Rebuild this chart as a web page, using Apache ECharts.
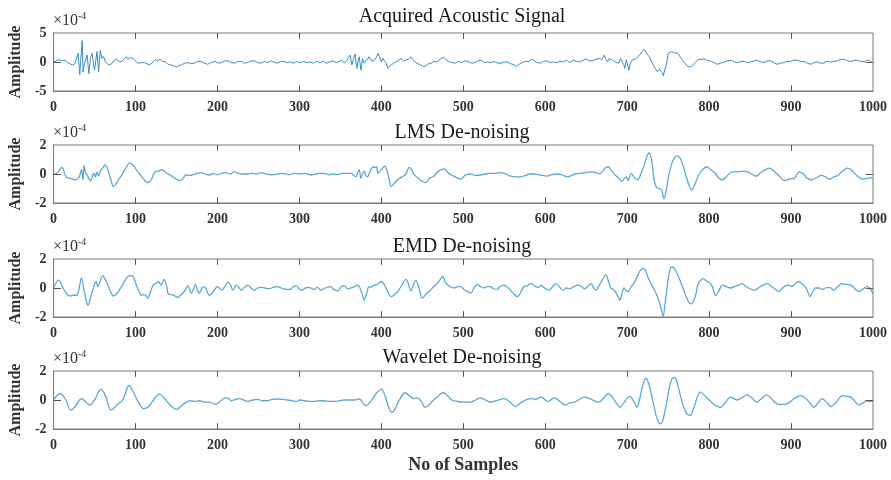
<!DOCTYPE html>
<html>
<head>
<meta charset="utf-8">
<script src="https://cdn.jsdelivr.net/npm/echarts@6/dist/echarts.min.js"></script>
<style>html,body{margin:0;padding:0;background:#fff}#c{width:891px;height:480px}</style>
</head>
<body>
<div id="c"></div>
<script>
// ---- data (amplitude in units of 1e-4) ----
const titles = ['Acquired Acoustic Signal', 'LMS De-noising', 'EMD De-noising', 'Wavelet De-noising'];
const xTicks = [0, 100, 200, 300, 400, 500, 600, 700, 800, 900, 1000];
const yLimits = [5, 2, 2, 2];

const acqX = [0,3,6,8,11,14,17,20,23,26,28,30,32,33,35,36,38,41,43,45,47,50,53,55,57,59,61,63,65,67,69,71,74,77,80,83,86,89,91,93,95,97,99,101,103,105,108,111,114,117,120,124,127,130,133,136,139,142,146,150,153,156,160,164,168,172,176,180,184,188,192,197,201,205,209,213,217,221,225,229,233,237,241,245,249,253,257,261,265,269,273,277,281,285,289,293,297,301,305,309,313,317,321,325,329,333,337,341,345,349,352,355,358,360,362,364,365,367,368,370,372,373,375,377,379,381,383,385,388,391,394,396,398,400,402,404,406,408,410,412,415,418,421,424,427,430,433,436,439,442,444,448,452,455,458,461,464,468,472,476,479,482,486,490,494,498,502,506,510,514,518,522,526,530,534,538,542,546,550,554,558,562,565,568,572,576,580,584,587,590,594,598,602,606,610,614,618,622,626,630,634,638,642,646,650,654,658,662,666,669,672,674,676,678,680,682,684,687,690,692,694,696,697,699,700,702,704,706,708,711,713,715,718,721,723,725,727,729,731,733,735,737,739,741,743,744,746,748,750,752,754,756,758,760,762,764,766,768,770,772,774,776,778,780,782,785,788,791,794,797,800,803,806,810,814,818,822,827,831,835,839,843,847,851,855,859,863,867,871,875,879,883,887,891,895,899,903,908,912,916,920,924,928,932,936,940,944,948,952,956,960,965,969,973,977,981,985,989,992,995,998,1000];
const acqY = [0,0.2,0.4,0.5,0.2,0.3,-0.1,-0.3,-0.5,-0.3,-0.6,1.5,-2.2,0.1,3.7,-1.7,-0.2,1.2,-2.0,0.6,1.5,-1.4,1.8,-1.7,2.0,0.6,1.0,0.1,-0.2,-0.5,-0.2,-0.3,0.3,0.5,0.1,0.1,0.5,0.9,0.5,0.6,0.8,0.8,0.3,0.1,-0.2,-0.4,-0.1,-0.1,-0.3,-0.5,-0.2,0.4,0.2,0.5,0.1,0.1,-0.3,-0.5,-0.6,-0.9,-0.6,-0.5,-0.2,-0.1,-0.3,-0.2,0.1,0.1,-0.2,-0.4,-0.1,0.1,-0.2,-0.1,0.2,0.2,-0.1,-0.2,0.1,0.1,-0.2,-0.1,0.2,0.2,-0.1,-0.2,0.1,-0.1,0.2,0.0,-0.2,0.1,0.1,-0.1,0.0,-0.2,0.1,-0.1,0.1,-0.1,0.0,-0.2,0.1,-0.1,0.1,-0.2,0.0,0.2,-0.1,0.1,0.3,-0.2,0.3,0.8,1.2,-0.5,-0.8,1.0,1.4,-1.1,0.5,0.9,-1.4,0.6,-0.2,0.0,0.5,0.9,0.2,0.3,0.8,1.5,0.9,0.0,0.6,0.6,-0.3,-1.1,-0.8,-0.5,-0.2,0.0,0.3,0.6,0.2,0.3,0.5,0.9,0.3,-0.1,-0.2,-0.5,-0.8,-0.6,-0.3,-0.2,0.1,0.0,0.5,0.8,0.4,0.1,-0.1,-0.2,0.1,-0.1,0.2,0.1,-0.2,-0.1,0.2,0.3,-0.1,0.0,-0.1,0.1,-0.2,-0.2,0.0,0.0,-0.3,-0.5,-0.8,-0.4,-0.1,0.1,0.1,0.5,0.2,-0.1,-0.2,0.1,0.2,-0.1,0.0,-0.1,0.1,0.0,0.3,-0.1,0.3,0.1,0.0,0.3,0.5,0.2,0.2,0.5,0.6,0.4,1.2,0.5,0.0,0.6,0.5,0.3,0.4,-0.1,-0.2,0.6,0.9,-0.5,-1.1,0.4,0.6,-1.4,-0.2,0.3,0.6,0.6,0.9,1.2,1.8,2.2,1.6,1.5,0.9,0.6,-0.3,-0.8,-1.3,-1.7,-1.2,-1.1,-1.9,-2.4,-1.3,-0.3,1.5,1.4,1.8,1.6,1.6,1.5,1.5,1.0,0.6,0.2,0.0,-0.5,-0.8,-0.9,-1.1,-0.6,-0.2,0.2,0.5,0.4,0.6,0.3,0.2,0.1,-0.1,-0.4,-0.2,0.0,0.2,0.3,0.0,-0.1,0.1,0.1,-0.1,0.0,0.2,0.3,0.0,-0.1,0.2,0.2,-0.1,-0.4,-0.2,-0.1,0.1,0.1,0.3,0.3,0.1,0.1,-0.2,-0.4,-0.1,0.0,-0.2,-0.2,0.1,0.0,0.1,0.2,0.4,0.5,0.2,0.1,0.3,0.3,0.1,0.0,0.3,0.3,0.0,-0.1];

const lmsX = [0,4,10,16,21,26,31,34,36,37,39,41,43,45,47,49,51,53,55,57,60,63,65,67,70,73,76,79,83,87,93,97,101,105,110,115,119,124,128,132,135,138,143,148,154,158,162,167,172,176,180,185,190,195,200,205,210,215,221,226,231,237,242,248,254,260,266,274,280,287,294,300,307,314,320,325,330,336,341,347,352,358,363,366,369,371,373,375,377,379,381,383,385,387,390,392,394,396,400,404,407,410,412,415,420,425,430,434,437,440,445,450,454,459,464,470,477,481,485,490,497,502,509,515,521,527,533,540,546,552,558,564,570,576,581,586,591,596,602,608,614,620,627,632,637,643,650,656,662,666,670,674,677,680,685,690,693,696,699,701,703,705,707,709,711,713,716,720,724,727,730,733,736,739,742,745,748,751,755,758,761,764,767,771,775,779,782,787,792,797,802,808,812,816,821,826,831,836,842,847,852,857,863,869,874,879,885,892,898,904,910,915,920,925,931,937,942,947,952,957,963,969,975,981,987,993,997,1000];
const lmsY = [0,0.05,0.45,-0.25,-0.3,-0.4,-0.25,0.3,-0.4,0.6,0.1,-0.1,-0.3,-0.5,-0.2,0.05,-0.2,0.15,-0.15,0.2,0.4,0.65,0.5,0.15,-0.4,-0.85,-0.7,-0.4,-0.1,0.3,0.75,0.6,0.3,0.0,-0.35,-0.6,-0.4,0.15,0.2,0.3,0.2,0.05,-0.1,-0.3,-0.45,-0.3,-0.05,-0.1,0.0,0.05,0.1,0.0,-0.07,0.05,-0.05,0.05,0.1,0.0,0.15,0.05,0.0,0.0,0.05,0.0,0.1,0.0,-0.05,0.0,0.05,-0.05,0.05,0.0,0.05,-0.07,0.0,0.05,0.05,-0.05,0.0,-0.03,0.05,0.05,0.05,-0.1,-0.2,0.1,0.3,-0.3,0.0,0.2,-0.1,-0.2,0.0,0.3,0.5,0.45,0.5,0.05,0.3,0.55,0.2,-0.5,-0.85,-0.7,-0.4,-0.2,0.0,0.45,0.3,-0.05,-0.3,-0.5,-0.6,-0.3,-0.15,0.2,0.35,0.1,-0.05,-0.2,-0.35,-0.1,0.0,-0.1,-0.07,0.0,0.05,0.05,0.1,0.0,-0.15,-0.2,-0.2,-0.1,0.0,0.0,-0.05,-0.1,-0.15,-0.05,0.0,-0.05,-0.2,-0.1,0.0,0.05,0.1,0.15,0.1,0.0,0.2,0.45,0.5,0.3,-0.05,-0.3,-0.5,-0.35,-0.2,-0.45,-0.2,0.05,-0.1,-0.25,-0.35,-0.4,-0.1,0.5,1.2,1.45,0.9,-0.4,-0.95,-1.0,-1.1,-1.7,-1.0,0.0,0.8,1.15,1.25,1.15,0.8,0.05,-0.7,-1.1,-0.8,-0.1,0.3,0.5,0.3,0.0,-0.3,-0.4,-0.2,0.1,0.15,0.15,0.2,0.15,0.0,-0.15,0.1,0.3,0.4,0.2,-0.1,-0.45,-0.35,-0.3,0.15,0.0,-0.3,-0.4,-0.25,-0.1,-0.2,-0.35,-0.2,-0.1,0.2,0.4,0.2,-0.15,-0.35,-0.3,-0.25,-0.35];

const emdX = [0,6,12,16,20,25,28,31,34,37,40,42,45,48,52,54,57,60,63,67,70,73,76,79,84,88,93,97,101,104,107,111,113,115,118,122,125,128,131,135,138,140,144,148,152,155,158,161,164,168,171,173,176,178,181,184,187,190,194,198,200,205,209,213,216,219,223,226,229,233,237,241,245,249,253,258,263,268,273,278,284,290,293,296,299,302,306,310,314,318,322,326,330,334,338,342,347,351,355,359,363,367,371,374,377,379,382,385,388,391,395,400,404,408,412,416,420,425,430,433,436,439,442,446,450,455,460,464,468,472,475,478,481,485,489,493,497,501,505,509,513,517,521,525,529,533,537,541,545,550,555,560,566,570,574,578,582,585,588,592,595,598,602,605,609,613,617,622,626,630,635,640,644,648,652,656,659,662,666,670,674,677,680,683,686,689,691,694,696,699,701,705,709,713,716,719,722,725,729,733,737,740,742,744,746,748,750,752,754,757,760,764,768,772,775,778,781,784,786,789,793,796,800,804,808,812,816,821,826,831,836,840,845,850,855,860,866,871,876,881,885,889,893,897,901,905,909,913,917,920,923,926,930,934,938,942,947,952,957,962,967,973,978,983,988,993,996,1000];
const emdY = [0,0.55,-0.05,-0.4,-0.55,-0.5,-0.5,-0.1,0.7,-0.1,-0.9,-1.2,-0.7,-0.1,0.45,0.1,0.5,0.85,0.6,0.1,-0.3,-0.55,-0.45,-0.25,0.2,0.6,0.85,0.8,0.2,-0.2,-0.5,-0.45,-0.55,-0.7,-0.3,0.25,0.3,0.45,0.2,0.6,0.1,-0.4,-0.45,-0.55,-0.65,-0.5,-0.35,-0.1,0.15,-0.35,-0.05,0.25,-0.2,-0.35,0.0,0.1,-0.2,-0.5,-0.3,0.0,0.1,-0.15,0.1,0.4,0.2,-0.15,0.2,0.05,-0.15,0.05,0.2,0.0,-0.15,0.0,0.05,0.0,-0.05,0.05,0.1,0.0,-0.1,-0.07,0.1,0.15,0.0,-0.15,-0.05,0.05,0.0,-0.1,0.05,-0.15,-0.05,0.05,0.1,-0.1,-0.2,0.1,0.15,-0.05,0.0,0.1,0.2,0.0,-0.5,-0.85,-0.4,0.1,0.05,0.2,0.25,0.45,0.2,-0.3,-0.6,-0.45,-0.25,0.2,0.6,0.3,-0.2,0.2,0.55,0.0,-0.7,-0.4,-0.15,0.1,0.3,0.6,0.8,0.4,0.2,0.05,0.0,0.1,0.1,-0.1,-0.25,-0.35,0.0,0.25,0.1,0.0,0.1,0.1,-0.05,-0.1,0.1,0.2,0.0,-0.3,-0.6,-0.3,0.1,0.15,0.3,0.25,0.1,0.05,0.2,0.05,-0.1,-0.15,0.1,0.3,0.1,-0.15,0.0,-0.05,0.1,0.2,0.1,-0.05,0.1,0.3,0.0,-0.15,0.2,0.6,0.9,0.5,0.0,-0.1,-0.3,-0.6,-0.85,-0.3,0.0,-0.2,-0.25,0.1,0.4,0.9,1.2,1.35,1.25,0.8,0.3,-0.1,-0.6,-1.1,-1.5,-1.95,-1.2,-0.3,0.6,1.2,1.45,1.4,1.1,0.6,0.0,-0.6,-0.95,-1.1,-0.9,-0.4,0.2,0.5,0.65,0.5,0.4,0.1,-0.5,-0.2,0.2,0.1,0.0,0.1,0.2,0.3,0.1,-0.05,-0.15,0.0,0.2,0.3,0.1,-0.1,-0.25,-0.05,0.15,0.2,0.1,0.3,0.45,0.3,0.1,-0.2,-0.6,-0.3,0.0,0.0,-0.1,0.0,0.05,-0.15,0.1,0.3,0.25,0.2,-0.05,-0.25,-0.05,0.1,0.0,-0.4];

const wavX = [0,8,15,21,27,34,39,44,50,58,64,70,74,77,80,83,87,92,97,103,110,116,122,129,134,140,145,150,155,162,167,172,178,184,190,197,203,210,214,217,222,227,232,237,243,249,255,261,267,273,280,286,291,296,301,306,312,318,324,330,336,343,349,355,361,367,373,381,387,393,400,405,409,413,417,421,429,435,440,444,449,453,458,462,468,475,480,486,493,500,509,515,521,527,533,540,550,557,564,570,576,582,588,595,603,611,618,624,630,636,642,648,656,665,671,677,683,688,691,696,700,703,708,712,715,719,723,727,731,735,738,741,744,748,752,755,758,761,765,769,773,777,781,785,789,794,800,807,814,820,826,830,834,840,846,852,858,864,870,876,880,885,891,897,904,912,918,923,928,933,938,943,949,955,963,968,973,978,983,988,993,996,1000];
const wavY = [0,0.45,0.0,-0.7,-0.4,0.1,-0.1,-0.35,0.0,0.75,0.2,-0.7,-0.55,-0.35,-0.2,-0.1,0.35,1.0,0.6,-0.1,-0.6,-0.45,0.0,0.4,0.2,-0.2,-0.5,-0.65,-0.45,-0.15,-0.05,-0.1,-0.05,-0.15,-0.15,-0.3,-0.1,0.15,0.1,-0.05,0.05,0.1,0.0,-0.1,0.0,0.05,-0.05,-0.05,0.05,0.07,0.05,0.0,-0.05,-0.1,0.0,-0.05,-0.1,-0.1,-0.05,-0.05,-0.1,-0.1,-0.05,0.0,0.0,0.0,0.07,-0.4,-0.1,0.4,0.75,0.2,-0.5,-0.85,-0.6,-0.1,0.5,0.25,0.1,0.15,-0.1,-0.5,-0.35,-0.1,0.2,0.5,0.35,0.0,-0.1,-0.15,-0.15,0.0,0.15,0.0,-0.15,-0.05,0.1,-0.15,-0.45,-0.2,0.0,0.1,0.05,0.2,-0.1,0.15,-0.1,-0.35,-0.2,-0.15,0.05,0.2,0.05,-0.15,0.1,0.45,0.1,-0.3,-0.5,-0.2,0.15,0.25,-0.1,-0.5,0.0,1.0,1.5,1.0,0.0,-1.0,-1.5,-1.65,-1.3,-0.2,1.0,1.5,1.55,1.2,0.3,-0.5,-0.95,-1.05,-0.6,0.1,0.55,0.35,0.0,-0.35,-0.5,-0.15,0.2,0.1,0.0,0.15,0.35,0.15,-0.15,0.1,0.35,0.1,-0.15,-0.3,-0.3,-0.2,0.1,0.3,0.1,-0.2,-0.5,-0.2,0.1,-0.15,-0.45,-0.15,0.3,0.25,0.2,-0.1,-0.35,-0.2,-0.05,-0.1,-0.1];

const seriesX = [acqX, lmsX, emdX, wavX];
const seriesY = [acqY, lmsY, emdY, wavY];

// ---- chart ----
const chart = echarts.init(document.getElementById('c'), null, {renderer: 'canvas'});
const FONT = "'Liberation Serif', 'Times New Roman', serif";
const tops = [33, 145, 259, 371];
const titleY = [17, 133, 247, 358];
const plotH = 58;
const lineColors = ['#3b8dc5', '#5ea8d4', '#5ea8d4', '#5ea8d4'];
const TICK_FRAC = 0.1;   // tick length as a fraction of each axis span (MATLAB style inner ticks)

const grids = [], xAxes = [], yAxes = [], series = [], graphics = [];
for (let i = 0; i < 4; i++) {
  const L = yLimits[i];
  grids.push({left: 52, right: 18, top: tops[i], height: plotH, show: true,
    borderColor: '#7a7a7a', borderWidth: 1, backgroundColor: 'rgba(0,0,0,0)'});
  xAxes.push({gridIndex: i, type: 'value', min: 0, max: 1000, interval: 100, position: 'bottom',
    axisLine: {show: true, onZero: false, lineStyle: {color: '#7a7a7a', width: 1}},
    splitLine: {show: false}, axisTick: {show: false},
    axisLabel: {fontFamily: FONT, fontWeight: 'bold', fontSize: 14, color: '#333', margin: 9,
      formatter: v => xTicks.indexOf(v) >= 0 ? String(v) : ''},
    name: i === 3 ? 'No of Samples' : '', nameLocation: 'middle', nameGap: 27,
    nameTextStyle: {fontFamily: FONT, fontWeight: 'bold', fontSize: 18, color: '#333'}});
  yAxes.push({gridIndex: i, type: 'value', min: -L, max: L, interval: L, position: 'left',
    axisLine: {show: true, onZero: false, lineStyle: {color: '#7a7a7a', width: 1}},
    splitLine: {show: false}, axisTick: {show: false},
    axisLabel: {fontFamily: FONT, fontWeight: 'bold', fontSize: 14, color: '#333', margin: 7},
    name: 'Amplitude', nameLocation: 'middle', nameGap: 17, nameRotate: 90,
    nameTextStyle: {fontFamily: FONT, fontWeight: 'bold', fontSize: 16, color: '#333'}});

  // inner tick marks (bottom, top, left, right) placed through the axis scales
  const tk = [];
  const dy = 2 * L * TICK_FRAC, dx = 1000 * 0.009;
  xTicks.slice(1, -1).forEach(v => {
    tk.push([{coord: [v, -L]}, {coord: [v, -L + dy]}]);
    tk.push([{coord: [v, L]}, {coord: [v, L - dy]}]);
  });
  tk.push([{coord: [0, 0]}, {coord: [dx, 0]}]);
  tk.push([{coord: [1000, 0]}, {coord: [1000 - dx, 0]}]);

  series.push({type: 'line', xAxisIndex: i, yAxisIndex: i, showSymbol: false,
    smooth: i === 0 ? false : 0.35, animation: false,
    lineStyle: {color: lineColors[i], width: i === 0 ? 1 : 1.3},
    data: seriesX[i].map((x, k) => [x, seriesY[i][k]]),
    markLine: {silent: true, animation: false, symbol: ['none', 'none'],
      label: {show: false}, emphasis: {disabled: true},
      lineStyle: {color: '#555', width: 1, type: 'solid'}, data: tk}});
  graphics.push({type: 'text', x: 462, y: titleY[i],
    style: {text: titles[i], font: '20px ' + FONT, fill: '#1a1a1a', align: 'center', verticalAlign: 'middle'}});
  graphics.push({type: 'text', x: 53, y: tops[i] - 12,
    style: {text: '{a|×10}{b|-4}', fill: '#333', verticalAlign: 'middle',
      rich: {a: {fontFamily: FONT, fontSize: 16, fill: '#333'},
             b: {fontFamily: FONT, fontSize: 10, fill: '#333', padding: [0, 0, 10, 0]}}}});
}

chart.setOption({
  backgroundColor: '#fff',
  animation: false,
  grid: grids, xAxis: xAxes, yAxis: yAxes, series: series,
  graphic: graphics
});
</script>
</body>
</html>
